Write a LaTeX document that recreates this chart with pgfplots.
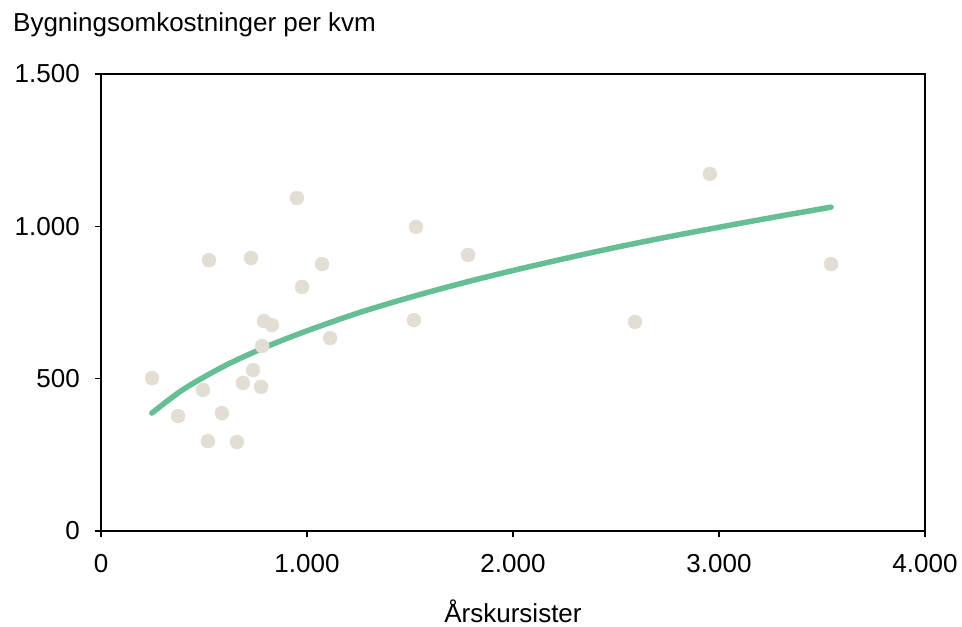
\documentclass[border=0pt]{standalone}
\usepackage{fontspec}
\setmainfont{Liberation Sans}
\usepackage{pgfplots}
\pgfplotsset{compat=1.18}
\definecolor{dotc}{RGB}{227,222,211}
\definecolor{trend}{RGB}{102,191,148}
\begin{document}
\begin{tikzpicture}[font=\fontsize{26}{30}\selectfont]
\useasboundingbox (-101pt,-96pt) rectangle (861pt,531pt);
\begin{axis}[
    scale only axis,
    width=824pt, height=457pt,
    at={(0,0)}, anchor=south west,
    xmin=0, xmax=4000, ymin=0, ymax=1500,
    xtick={0,1000,2000,3000,4000},
    ytick={0,500,1000,1500},
    axis line style={line width=1.2pt, black},
    tick style={line width=1.2pt, black},
    tick align=outside,
    major tick length=6pt,
    xtick pos=bottom, ytick pos=left,
    /pgf/number format/.cd, 1000 sep={.}, assume math mode=true,
    /pgfplots/.cd,
    ticklabel style={font=\fontsize{26}{30}\selectfont, inner sep=0pt},
    xticklabel style={anchor=base, yshift=-35pt},
    yticklabel style={anchor=east, xshift=-15pt},
    clip=false,
]
\draw[line width=2.3pt] (rel axis cs:0,1) -- (rel axis cs:0,0) -- (rel axis cs:1,0);
\addplot[only marks, mark=*, mark size=7pt, color=dotc] coordinates {
(248,502) (374,377) (495,463) (524,889) (519,295) (587,387) (660,292)
(689,486) (728,896) (738,528) (777,473) (782,607) (791,689) (830,676)
(951,1093) (976,801) (1073,876) (1112,633) (1519,692) (1529,998)
(1782,906) (2592,686) (2956,1172) (3544,876)
};
\addplot[trend, line width=5.5pt, line cap=round, smooth] coordinates {
(247,387) (400,465) (600,542) (800,604) (1000,657) (1250,716) (1500,767)
(1750,813) (2000,855) (2250,894) (2500,931) (2750,965) (3000,997)
(3250,1028) (3544,1063)
};
\end{axis}
\node[anchor=base west, inner sep=0pt] at (-88pt,499pt) {Bygningsomkostninger per kvm};
\node[anchor=base, inner sep=0pt] at (412pt,-91pt) {Årskursister};
\end{tikzpicture}
\end{document}
